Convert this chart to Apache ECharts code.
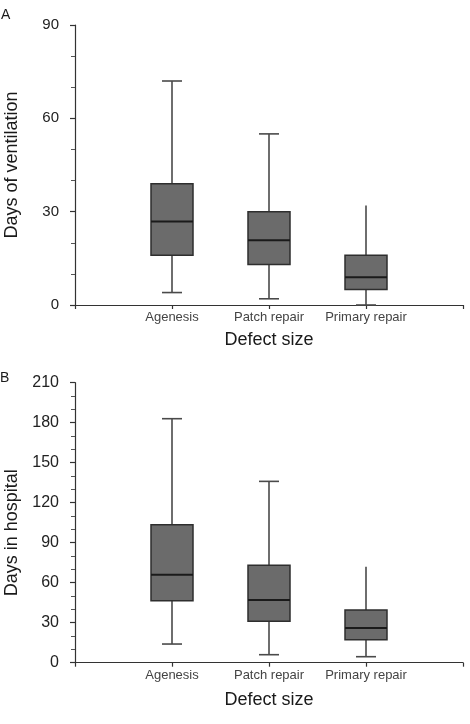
<!DOCTYPE html>
<html><head><meta charset="utf-8">
<script src="https://cdn.jsdelivr.net/npm/echarts@6/dist/echarts.min.js"></script>
<style>html,body{margin:0;padding:0;background:#fff}#c{width:470px;height:724px}</style>
</head><body><div id="c"></div>
<script>
// ---- data ----
const categories = ['Agenesis', 'Patch repair', 'Primary repair'];
// Panel A: days of ventilation
const ventMin = [4, 2, 0];
const ventQ1 = [16, 13, 5];
const ventMed = [26.8, 20.8, 8.9];
const ventQ3 = [39, 30, 16];
const ventMax = [72, 55, 32];
// Panel B: days in hospital
const hospMin = [14, 6, 4.5];
const hospQ1 = [46.5, 31, 17.3];
const hospMed = [66, 47, 26];
const hospQ3 = [103.5, 73, 39.5];
const hospMax = [183, 136, 72];
const ventTicks = [0, 30, 60, 90];
const hospTicks = [0, 30, 60, 90, 120, 150, 180, 210];

const FONT = 'Liberation Sans, Arial, Helvetica, sans-serif';
const axisCats = [' '].concat(categories).concat(['  ']);

function rows(mn, q1, md, q3, mx) {
  return categories.map((c, i) => [c, mn[i], q1[i], md[i], q3[i], mx[i]]);
}

function renderBox(params, api) {
  const x = api.value(0);
  const pMin = api.coord([x, api.value(1)]);
  const pQ1 = api.coord([x, api.value(2)]);
  const pMed = api.coord([x, api.value(3)]);
  const pQ3 = api.coord([x, api.value(4)]);
  const pMax = api.coord([x, api.value(5)]);
  const cx = pMin[0];
  const bw = 42, cw = 20;
  const wStyle = { stroke: '#4a4a4a', lineWidth: 1.6 };
  const ch = [
    { type: 'line', shape: { x1: cx, y1: pQ3[1], x2: cx, y2: pMax[1] }, style: wStyle },
    { type: 'line', shape: { x1: cx, y1: pQ1[1], x2: cx, y2: pMin[1] }, style: wStyle },
    { type: 'line', shape: { x1: cx - cw / 2, y1: pMin[1], x2: cx + cw / 2, y2: pMin[1] }, style: wStyle }
  ];
  if (params.dataIndex !== categories.length - 1) {
    ch.push({ type: 'line', shape: { x1: cx - cw / 2, y1: pMax[1], x2: cx + cw / 2, y2: pMax[1] }, style: wStyle });
  }
  ch.push({ type: 'rect', shape: { x: cx - bw / 2, y: pQ3[1], width: bw, height: pQ1[1] - pQ3[1] },
            style: { fill: '#6b6b6b', stroke: '#2e2e2e', lineWidth: 1.5 } });
  ch.push({ type: 'line', shape: { x1: cx - bw / 2, y1: pMed[1], x2: cx + bw / 2, y2: pMed[1] },
            style: { stroke: '#1a1a1a', lineWidth: 2 } });
  return { type: 'group', children: ch };
}

function xAxisCfg(gi, gap) {
  return {
    type: 'category', gridIndex: gi, data: axisCats, boundaryGap: false,
    axisLine: { lineStyle: { color: '#333', width: 1.2 } },
    axisTick: { show: true, length: 4, interval: 0, lineStyle: { color: '#333', width: 1.2 } },
    axisLabel: { interval: 0, margin: 6, fontSize: 13, color: '#444', fontFamily: FONT },
    splitLine: { show: false },
    name: 'Defect size', nameLocation: 'middle', nameGap: gap,
    nameTextStyle: { fontSize: 18, color: '#1a1a1a', fontFamily: FONT }
  };
}
function yAxisCfg(gi, max, name, fs, pad) {
  return {
    type: 'value', gridIndex: gi, min: 0, max: max, interval: 30,
    axisLine: { show: true, lineStyle: { color: '#333', width: 1.2 } },
    axisTick: { show: true, length: 5, lineStyle: { color: '#333', width: 1.2 } },
    minorTick: { show: true, splitNumber: 3, length: 4, lineStyle: { color: '#555', width: 1 } },
    axisLabel: { margin: 16, fontSize: fs, color: '#222', fontFamily: FONT },
    splitLine: { show: false },
    name: name, nameLocation: 'middle', nameGap: 54, nameRotate: 90,
    nameTextStyle: { fontSize: 18, color: '#1a1a1a', fontFamily: FONT, padding: pad }
  };
}

const chart = echarts.init(document.getElementById('c'), null, { renderer: 'canvas' });
chart.setOption({
  animation: false,
  backgroundColor: '#fff',
  grid: [
    { left: 75, right: 7, top: 25, height: 280, containLabel: false, outerBoundsMode: 'none' },
    { left: 75, right: 7, top: 382.7, height: 280, containLabel: false, outerBoundsMode: 'none' }
  ],
  xAxis: [xAxisCfg(0, 26), xAxisCfg(1, 28)],
  yAxis: [
    yAxisCfg(0, 90, 'Days of ventilation', 15, [0, 0, 0, 0]),
    yAxisCfg(1, 210, 'Days in hospital', 16, [0, 20, 0, 0])
  ],
  graphic: [
    { type: 'text', left: 1, top: 8, style: { text: 'A', fontSize: 14, fill: '#1a1a1a', fontFamily: FONT } },
    { type: 'text', left: 0, top: 371, style: { text: 'B', fontSize: 14, fill: '#1a1a1a', fontFamily: FONT } }
  ],
  series: [
    { type: 'custom', xAxisIndex: 0, yAxisIndex: 0, renderItem: renderBox,
      encode: { x: 0, y: [1, 2, 3, 4, 5] }, data: rows(ventMin, ventQ1, ventMed, ventQ3, ventMax), z: 5 },
    { type: 'custom', xAxisIndex: 1, yAxisIndex: 1, renderItem: renderBox,
      encode: { x: 0, y: [1, 2, 3, 4, 5] }, data: rows(hospMin, hospQ1, hospMed, hospQ3, hospMax), z: 5 }
  ]
});
</script></body></html>
